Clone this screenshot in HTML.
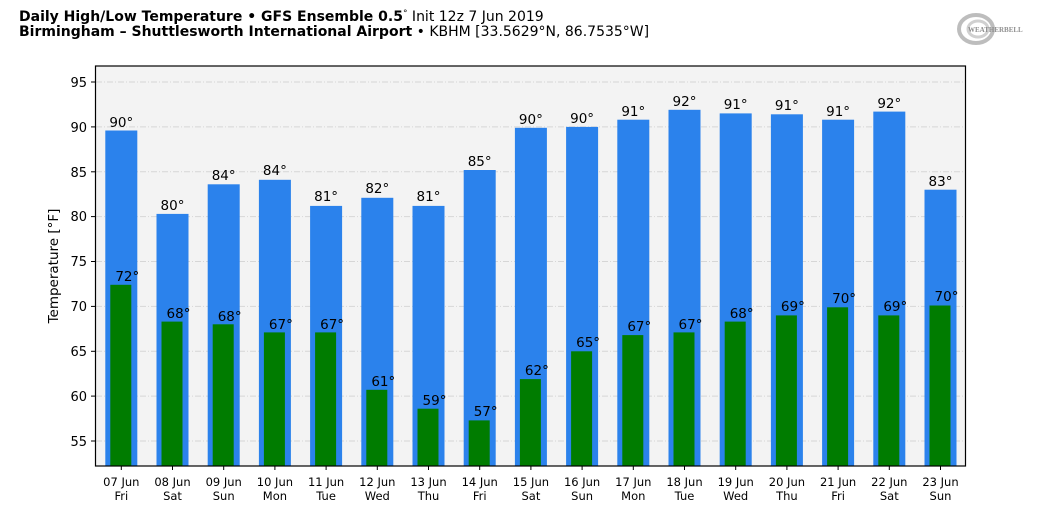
<!DOCTYPE html>
<html><head><meta charset="utf-8"><style>
html,body{margin:0;padding:0;background:#fff;width:1040px;height:516px;overflow:hidden}
svg{display:block;font-family:"DejaVu Sans","Liberation Sans",sans-serif}
</style></head><body>
<svg width="1040" height="516" viewBox="0 0 1040 516">
<text x="19" y="21" font-size="14" font-weight="bold" fill="#000">Daily High/Low Temperature • GFS Ensemble 0.5<tspan font-size="9" dy="-5" font-weight="normal">°</tspan><tspan dy="5" font-weight="normal"> Init 12z 7 Jun 2019</tspan></text>
<text x="19" y="36" font-size="14" font-weight="bold" fill="#000">Birmingham – Shuttlesworth International Airport<tspan font-weight="normal"> • KBHM [33.5629°N, 86.7535°W]</tspan></text>
<g opacity="0.55">
<ellipse cx="976" cy="29" rx="17" ry="14" fill="none" stroke="#888" stroke-width="4"/>
<ellipse cx="978" cy="29" rx="10" ry="8" fill="none" stroke="#aaa" stroke-width="3"/>
<text x="968" y="32" font-size="7" font-weight="bold" fill="#333" font-family="Liberation Serif,serif">WEATHERBELL</text>
</g>
<rect x="96" y="66" width="869.5" height="400" fill="#f3f3f3"/>
<g stroke="#d6d6d6" stroke-width="1" stroke-dasharray="6,2,1,2">
<line x1="96" x2="965" y1="441" y2="441"/><line x1="96" x2="965" y1="396.1" y2="396.1"/><line x1="96" x2="965" y1="351.3" y2="351.3"/><line x1="96" x2="965" y1="306.4" y2="306.4"/><line x1="96" x2="965" y1="261.5" y2="261.5"/><line x1="96" x2="965" y1="216.6" y2="216.6"/><line x1="96" x2="965" y1="171.8" y2="171.8"/><line x1="96" x2="965" y1="126.9" y2="126.9"/><line x1="96" x2="965" y1="82" y2="82"/>
</g>
<g fill="#2b82ec">
<rect x="105.3" y="130.5" width="32" height="335.5"/>
<rect x="156.5" y="213.9" width="32" height="252.1"/>
<rect x="207.7" y="184.3" width="32" height="281.7"/>
<rect x="258.9" y="179.8" width="32" height="286.2"/>
<rect x="310.1" y="205.9" width="32" height="260.1"/>
<rect x="361.3" y="197.8" width="32" height="268.2"/>
<rect x="412.5" y="205.9" width="32" height="260.1"/>
<rect x="463.7" y="170" width="32" height="296"/>
<rect x="514.9" y="127.8" width="32" height="338.2"/>
<rect x="566.1" y="126.9" width="32" height="339.1"/>
<rect x="617.3" y="119.7" width="32" height="346.3"/>
<rect x="668.5" y="109.8" width="32" height="356.2"/>
<rect x="719.7" y="113.4" width="32" height="352.6"/>
<rect x="770.9" y="114.3" width="32" height="351.7"/>
<rect x="822.1" y="119.7" width="32" height="346.3"/>
<rect x="873.3" y="111.6" width="32" height="354.4"/>
<rect x="924.5" y="189.7" width="32" height="276.3"/>
</g>
<g fill="#007c00">
<rect x="110.3" y="284.8" width="21" height="181.2"/>
<rect x="161.5" y="321.6" width="21" height="144.4"/>
<rect x="212.7" y="324.3" width="21" height="141.7"/>
<rect x="263.9" y="332.4" width="21" height="133.6"/>
<rect x="315.1" y="332.4" width="21" height="133.6"/>
<rect x="366.3" y="389.8" width="21" height="76.2"/>
<rect x="417.5" y="408.7" width="21" height="57.3"/>
<rect x="468.7" y="420.4" width="21" height="45.6"/>
<rect x="519.9" y="379.1" width="21" height="86.9"/>
<rect x="571.1" y="351.3" width="21" height="114.7"/>
<rect x="622.3" y="335.1" width="21" height="130.9"/>
<rect x="673.5" y="332.4" width="21" height="133.6"/>
<rect x="724.7" y="321.6" width="21" height="144.4"/>
<rect x="775.9" y="315.4" width="21" height="150.6"/>
<rect x="827.1" y="307.3" width="21" height="158.7"/>
<rect x="878.3" y="315.4" width="21" height="150.6"/>
<rect x="929.5" y="305.5" width="21" height="160.5"/>
</g>
<g font-size="13.5" fill="#000" text-anchor="middle">
<text x="121.3" y="127">90°</text><text x="172.5" y="210">80°</text><text x="223.7" y="180">84°</text><text x="274.9" y="175">84°</text><text x="326.1" y="201">81°</text><text x="377.3" y="193">82°</text><text x="428.5" y="201">81°</text><text x="479.7" y="166">85°</text><text x="530.9" y="124">90°</text><text x="582.1" y="123">90°</text><text x="633.3" y="116">91°</text><text x="684.5" y="106">92°</text><text x="735.7" y="109">91°</text><text x="786.9" y="110">91°</text><text x="838.1" y="116">91°</text><text x="889.3" y="108">92°</text><text x="940.5" y="186">83°</text>
<text x="127.3" y="281">72°</text><text x="178.5" y="318">68°</text><text x="229.7" y="321">68°</text><text x="280.9" y="329">67°</text><text x="332.1" y="329">67°</text><text x="383.3" y="386">61°</text><text x="434.5" y="405">59°</text><text x="485.7" y="416">57°</text><text x="536.9" y="375">62°</text><text x="588.1" y="347">65°</text><text x="639.3" y="331">67°</text><text x="690.5" y="329">67°</text><text x="741.7" y="318">68°</text><text x="792.9" y="311">69°</text><text x="844.1" y="303">70°</text><text x="895.3" y="311">69°</text><text x="946.5" y="301">70°</text>
</g>
<rect x="95.5" y="66" width="870" height="400" fill="none" stroke="#000" stroke-width="1.2"/>
<g stroke="#000" stroke-width="1">
<line x1="91" x2="96" y1="441" y2="441"/><line x1="91" x2="96" y1="396.1" y2="396.1"/><line x1="91" x2="96" y1="351.3" y2="351.3"/><line x1="91" x2="96" y1="306.4" y2="306.4"/><line x1="91" x2="96" y1="261.5" y2="261.5"/><line x1="91" x2="96" y1="216.6" y2="216.6"/><line x1="91" x2="96" y1="171.8" y2="171.8"/><line x1="91" x2="96" y1="126.9" y2="126.9"/><line x1="91" x2="96" y1="82" y2="82"/>
</g>
<g font-size="13" fill="#000" text-anchor="end">
<text x="87" y="446">55</text><text x="87" y="401">60</text><text x="87" y="356">65</text><text x="87" y="311">70</text><text x="87" y="266">75</text><text x="87" y="221">80</text><text x="87" y="177">85</text><text x="87" y="132">90</text><text x="87" y="87">95</text>
</g>
<text transform="translate(58,266) rotate(-90)" font-size="13.5" text-anchor="middle">Temperature [°F]</text>
<g stroke="#000"><line x1="121.3" x2="121.3" y1="466" y2="470"/><line x1="172.5" x2="172.5" y1="466" y2="470"/><line x1="223.7" x2="223.7" y1="466" y2="470"/><line x1="274.9" x2="274.9" y1="466" y2="470"/><line x1="326.1" x2="326.1" y1="466" y2="470"/><line x1="377.3" x2="377.3" y1="466" y2="470"/><line x1="428.5" x2="428.5" y1="466" y2="470"/><line x1="479.7" x2="479.7" y1="466" y2="470"/><line x1="530.9" x2="530.9" y1="466" y2="470"/><line x1="582.1" x2="582.1" y1="466" y2="470"/><line x1="633.3" x2="633.3" y1="466" y2="470"/><line x1="684.5" x2="684.5" y1="466" y2="470"/><line x1="735.7" x2="735.7" y1="466" y2="470"/><line x1="786.9" x2="786.9" y1="466" y2="470"/><line x1="838.1" x2="838.1" y1="466" y2="470"/><line x1="889.3" x2="889.3" y1="466" y2="470"/><line x1="940.5" x2="940.5" y1="466" y2="470"/></g>
<g font-size="11.5" fill="#000" text-anchor="middle">
<text x="121.3" y="486">07 Jun</text><text x="121.3" y="500">Fri</text>
<text x="172.5" y="486">08 Jun</text><text x="172.5" y="500">Sat</text>
<text x="223.7" y="486">09 Jun</text><text x="223.7" y="500">Sun</text>
<text x="274.9" y="486">10 Jun</text><text x="274.9" y="500">Mon</text>
<text x="326.1" y="486">11 Jun</text><text x="326.1" y="500">Tue</text>
<text x="377.3" y="486">12 Jun</text><text x="377.3" y="500">Wed</text>
<text x="428.5" y="486">13 Jun</text><text x="428.5" y="500">Thu</text>
<text x="479.7" y="486">14 Jun</text><text x="479.7" y="500">Fri</text>
<text x="530.9" y="486">15 Jun</text><text x="530.9" y="500">Sat</text>
<text x="582.1" y="486">16 Jun</text><text x="582.1" y="500">Sun</text>
<text x="633.3" y="486">17 Jun</text><text x="633.3" y="500">Mon</text>
<text x="684.5" y="486">18 Jun</text><text x="684.5" y="500">Tue</text>
<text x="735.7" y="486">19 Jun</text><text x="735.7" y="500">Wed</text>
<text x="786.9" y="486">20 Jun</text><text x="786.9" y="500">Thu</text>
<text x="838.1" y="486">21 Jun</text><text x="838.1" y="500">Fri</text>
<text x="889.3" y="486">22 Jun</text><text x="889.3" y="500">Sat</text>
<text x="940.5" y="486">23 Jun</text><text x="940.5" y="500">Sun</text>
</g>
</svg>
</body></html>
